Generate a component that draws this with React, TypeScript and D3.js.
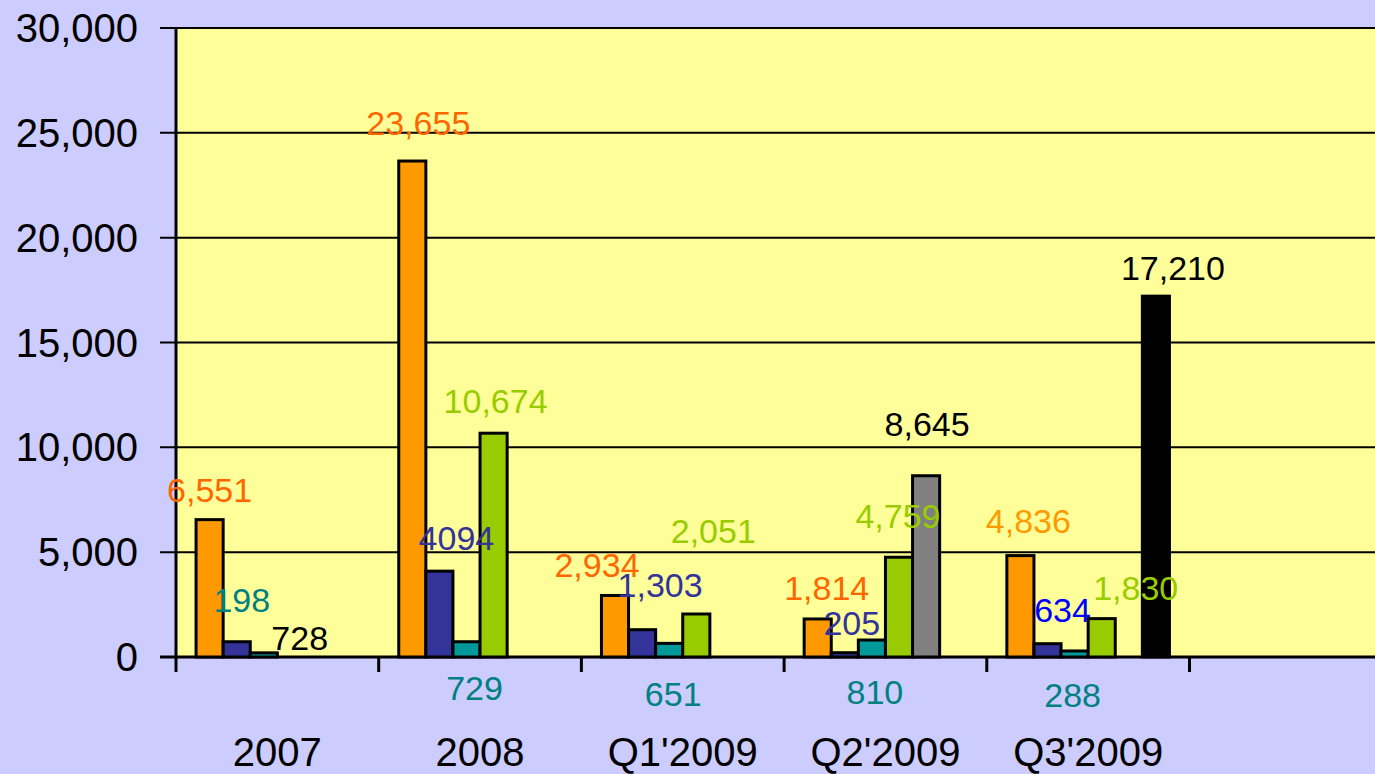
import React from 'react'
import * as d3 from 'd3'

const categories = ['2007', '2008', "Q1'2009", "Q2'2009", "Q3'2009", '']
const seriesNames = ['orange', 'navy', 'teal', 'green', 'gray', 'black']
const seriesColors = ['#FF9900', '#333399', '#009999', '#99CC00', '#808080', '#000000']

// values per series, one entry per category
const orangeValues = [6551, 23655, 2934, 1814, 4836, 0]
const navyValues = [728, 4094, 1303, 205, 634, 0]
const tealValues = [198, 729, 651, 810, 288, 0]
const greenValues = [0, 10674, 2051, 4759, 1830, 0]
const grayValues = [0, 0, 0, 8645, 0, 0]
const blackValues = [0, 0, 0, 0, 17210, 0]
const seriesValues = [orangeValues, navyValues, tealValues, greenValues, grayValues, blackValues]

const yTicks = [0, 5000, 10000, 15000, 20000, 25000, 30000]

// data labels as shown in the chart: category, series, text, colour
const labelTexts = [
  { c: 0, s: 0, text: '6,551', color: '#FF6600' },
  { c: 0, s: 2, text: '198', color: '#008080' },
  { c: 0, s: 1, text: '728', color: '#000000' },
  { c: 1, s: 0, text: '23,655', color: '#FF6600' },
  { c: 1, s: 1, text: '4094', color: '#333399' },
  { c: 1, s: 2, text: '729', color: '#008080' },
  { c: 1, s: 3, text: '10,674', color: '#99CC00' },
  { c: 2, s: 0, text: '2,934', color: '#FF6600' },
  { c: 2, s: 1, text: '1,303', color: '#333399' },
  { c: 2, s: 2, text: '651', color: '#008080' },
  { c: 2, s: 3, text: '2,051', color: '#99CC00' },
  { c: 3, s: 0, text: '1,814', color: '#FF6600' },
  { c: 3, s: 1, text: '205', color: '#333399' },
  { c: 3, s: 2, text: '810', color: '#008080' },
  { c: 3, s: 3, text: '4,759', color: '#99CC00' },
  { c: 3, s: 4, text: '8,645', color: '#000000' },
  { c: 4, s: 0, text: '4,836', color: '#FF9900' },
  { c: 4, s: 1, text: '634', color: '#0000FF' },
  { c: 4, s: 2, text: '288', color: '#008080' },
  { c: 4, s: 3, text: '1,830', color: '#99CC00' },
  { c: 4, s: 5, text: '17,210', color: '#000000' },
]

// hand nudges of the labels (dx from bar centre, dy from bar top, or from axis when below)
const labelNudges: [number, number, boolean][] = [
  [0, -18, false], [-22, -41, false], [63, 8, false],
  [6, -26, false], [17, -21, false], [8, 43, true], [2, -20, false],
  [-18, -18, false], [18, -33, false], [4, 49, true], [17, -71, false],
  [9, -19, false], [7, -18, false], [3, 47, true], [-1, -29, false], [1, -40, false],
  [8, -23, false], [15, -22, false], [-2, 50, true], [34, -19, false], [17, -16, false],
]

const W = 1375
const H = 774
const left = 176
const top = 28
const bottom = 657
const right = 176 + 202.7 * 6

export default function App() {
  const x0 = d3.scaleBand<string>().domain(categories.map((c, i) => i + c)).range([left, right]).paddingInner(0).paddingOuter(0)
  const x1 = d3.scaleBand<string>().domain(seriesNames).range([0, x0.bandwidth()]).paddingOuter(0.74).paddingInner(0)
  const y = d3.scaleLinear().domain([0, 30000]).range([bottom, top])
  const fmt = d3.format(',')
  const key = (i: number) => i + categories[i]

  const bars = categories.flatMap((c, ci) =>
    seriesNames.map((s, si) => ({ ci, si, v: seriesValues[si][ci] })).filter(d => d.v > 0)
  )

  return (
    <svg width={W} height={H} style={{ position: 'absolute', left: 0, top: 0 }} fontFamily="'Liberation Sans', Arial, sans-serif">
      <rect x={0} y={0} width={W} height={H} fill="#CCCCFF" />
      <rect x={left} y={top} width={right - left} height={bottom - top} fill="#FFFF99" />
      {yTicks.map(t => (
        <g key={t}>
          <line x1={left - 16} x2={right} y1={y(t)} y2={y(t)} stroke="#000" strokeWidth={t === 0 ? 3 : 2} />
          <text x={138} y={y(t)} dy="0.35em" textAnchor="end" fontSize={40} fill="#000">{fmt(t)}</text>
        </g>
      ))}
      <line x1={left} x2={left} y1={top} y2={bottom} stroke="#000" strokeWidth={3} />
      {d3.range(categories.length + 1).map(i => {
        const xx = left + i * x0.bandwidth()
        return <line key={i} x1={xx} x2={xx} y1={bottom} y2={bottom + 15} stroke="#000" strokeWidth={3} />
      })}
      {categories.map((c, i) => (
        <text key={i} x={(x0(key(i)) as number) + x0.bandwidth() / 2} y={766} textAnchor="middle" fontSize={40} fill="#000">{c}</text>
      ))}
      {bars.map(d => (
        <rect key={d.ci + '-' + d.si}
          x={(x0(key(d.ci)) as number) + (x1(seriesNames[d.si]) as number)}
          y={y(d.v)}
          width={x1.bandwidth()}
          height={bottom - y(d.v)}
          fill={seriesColors[d.si]}
          stroke="#000" strokeWidth={3} />
      ))}
      {labelTexts.map((l, i) => {
        const [dx, dy, below] = labelNudges[i]
        const cx = (x0(key(l.c)) as number) + (x1(seriesNames[l.s]) as number) + x1.bandwidth() / 2
        const ty = below ? bottom : y(seriesValues[l.s][l.c])
        return (
          <text key={i} x={cx + dx} y={ty + dy} textAnchor="middle" fontSize={34} fill={l.color}>{l.text}</text>
        )
      })}
    </svg>
  )
}
